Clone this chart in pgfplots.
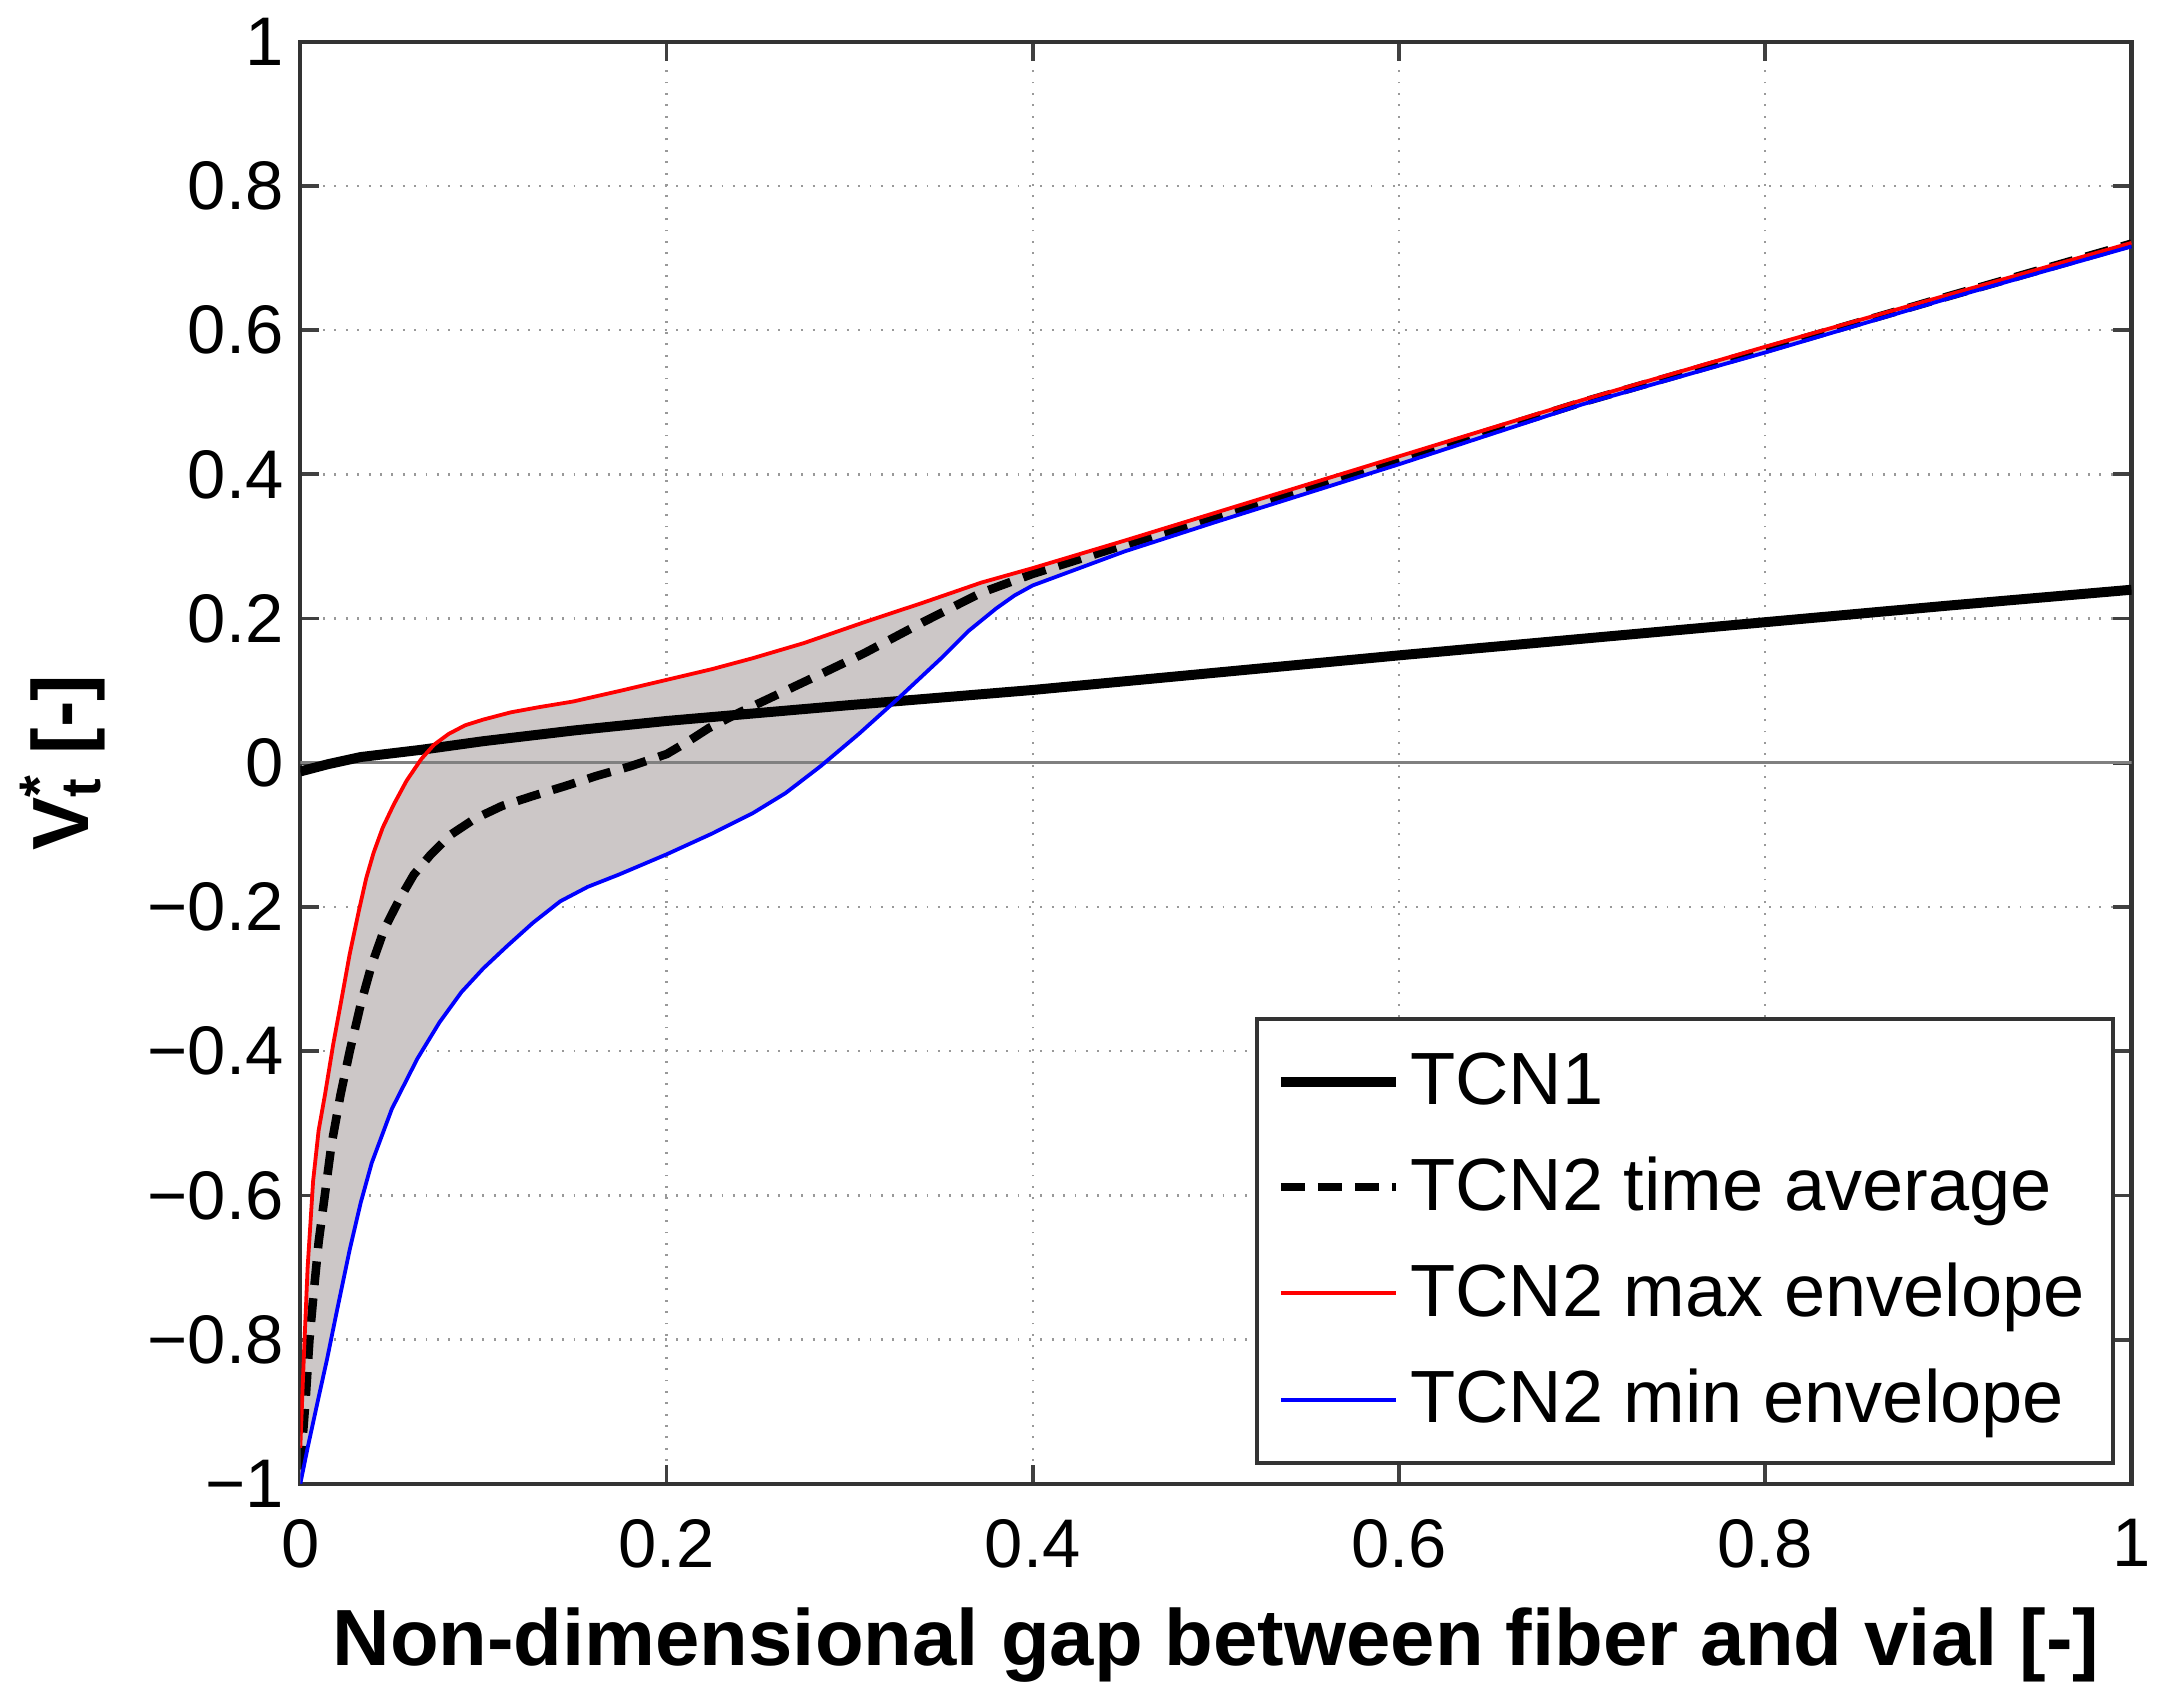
\documentclass[border=0pt]{standalone}
\usepackage{fontspec}
\setmainfont{Liberation Sans}
\usepackage{pgfplots}
\pgfplotsset{compat=1.18}
\usepgfplotslibrary{fillbetween}
\definecolor{envfill}{RGB}{204,199,199}

\begin{document}
\begin{tikzpicture}
\begin{axis}[
    scale only axis,
    width=386pt,
    height=304pt,
    xmin=0, xmax=1,
    ymin=-1, ymax=1,
    xtick={0,0.2,0.4,0.6,0.8,1},
    xticklabels={0,0.2,0.4,0.6,0.8,1},
    ytick={-1,-0.8,-0.6,-0.4,-0.2,0,0.2,0.4,0.6,0.8,1},
    yticklabels={−1,−0.8,−0.6,−0.4,−0.2,0,0.2,0.4,0.6,0.8,1},
    tick align=inside,
    major tick length=4pt,
    tick style={black!75, line width=0.8pt},
    axis line style={black!80, line width=0.9pt},
    grid=major,
    grid style={dotted, gray!80, line width=0.5pt},
    ticklabel style={font=\fontsize{14.5}{17}\selectfont},
    xticklabel style={yshift=-4pt},
    xlabel={\textbf{Non-dimensional gap between fiber and vial [-]}},
    ylabel={\textbf{V\rlap{\textsuperscript{*}}\textsubscript{t} [-]}},
    label style={font=\fontsize{16.8}{20}\selectfont},
    xlabel style={at={(axis description cs:0.5,-0.112)}, anchor=center},
    ylabel style={at={(axis description cs:-0.13,0.5)}, anchor=center},
    legend style={at={(axis description cs:0.991,0.013)}, anchor=south east,
        font=\fontsize{15.6}{18}\selectfont, draw=black!80, line width=0.8pt,
        row sep=5.6pt, inner xsep=4pt, inner ysep=5pt},
    legend cell align=left,
    legend image code/.code={\draw[#1] (0cm,0cm) -- (0.85cm,0cm);},
]

% zero line
\addplot[gray, line width=0.6pt, forget plot] coordinates {(0,0) (1,0)};

% envelope paths for the shaded band
\addplot[draw=none, name path=maxenv, forget plot] coordinates {
    (0,-0.95) (0.002,-0.82) (0.004,-0.70) (0.007,-0.58) (0.01,-0.51)
    (0.0135,-0.46) (0.018,-0.39) (0.022,-0.335) (0.027,-0.265) (0.032,-0.205)
    (0.036,-0.16) (0.040,-0.125) (0.045,-0.09) (0.051,-0.058) (0.058,-0.025)
    (0.066,0.005) (0.073,0.025) (0.081,0.04) (0.09,0.052) (0.10,0.06)
    (0.115,0.07) (0.13,0.077) (0.149,0.085) (0.175,0.10) (0.2,0.115)
    (0.225,0.13) (0.247,0.145) (0.275,0.166) (0.308,0.195) (0.34,0.222)
    (0.372,0.25) (0.4,0.27) (0.45,0.308) (0.5,0.347) (0.6,0.425)
    (0.7,0.503) (0.8,0.577) (0.9,0.649) (1.0,0.721)
};
\addplot[draw=none, name path=minenv, forget plot] coordinates {
    (0,-1.0) (0.004,-0.95) (0.01,-0.88) (0.0147,-0.826) (0.02,-0.76)
    (0.027,-0.675) (0.033,-0.61) (0.039,-0.555) (0.05,-0.48) (0.064,-0.41)
    (0.076,-0.36) (0.088,-0.318) (0.1,-0.285) (0.113,-0.254) (0.127,-0.222)
    (0.142,-0.192) (0.157,-0.172) (0.174,-0.155) (0.2,-0.127) (0.225,-0.098)
    (0.247,-0.07) (0.265,-0.042) (0.284,-0.005) (0.305,0.04) (0.326,0.088)
    (0.35,0.145) (0.365,0.183) (0.38,0.214) (0.39,0.232) (0.4,0.246)
    (0.45,0.293) (0.5,0.334) (0.6,0.414) (0.7,0.497) (0.8,0.569)
    (0.9,0.644) (1.0,0.716)
};
\addplot[envfill, forget plot] fill between[of=maxenv and minenv];

% TCN1
\addplot[black, line width=2.1pt] coordinates {
    (0,-0.012) (0.015,-0.002) (0.033,0.008) (0.066,0.018) (0.1,0.03)
    (0.15,0.045) (0.2,0.058) (0.3,0.08) (0.4,0.101) (0.5,0.125)
    (0.6,0.149) (0.7,0.172) (0.8,0.195) (0.9,0.218) (1.0,0.24)
};
\addlegendentry{TCN1}

% TCN2 time average
\addplot[black, line width=1.8pt, dash pattern=on 5pt off 2.8pt] coordinates {
    (0,-0.98) (0.003,-0.88) (0.005,-0.80) (0.0075,-0.73) (0.01,-0.665)
    (0.017,-0.53) (0.022,-0.46) (0.027,-0.40) (0.033,-0.335) (0.039,-0.28)
    (0.046,-0.23) (0.054,-0.19) (0.062,-0.155) (0.071,-0.128) (0.082,-0.10)
    (0.095,-0.078) (0.11,-0.06) (0.127,-0.046) (0.145,-0.032) (0.162,-0.018)
    (0.18,-0.005) (0.2,0.012) (0.212,0.03) (0.223,0.048) (0.24,0.07)
    (0.26,0.094) (0.285,0.124) (0.308,0.152) (0.34,0.195) (0.372,0.236)
    (0.4,0.262) (0.45,0.302) (0.5,0.341) (0.6,0.42) (0.7,0.50)
    (0.8,0.573) (0.9,0.647) (1.0,0.72)
};
\addlegendentry{TCN2 time average}

% TCN2 max envelope
\addplot[red, line width=0.8pt] coordinates {
    (0,-0.95) (0.002,-0.82) (0.004,-0.70) (0.007,-0.58) (0.01,-0.51)
    (0.0135,-0.46) (0.018,-0.39) (0.022,-0.335) (0.027,-0.265) (0.032,-0.205)
    (0.036,-0.16) (0.040,-0.125) (0.045,-0.09) (0.051,-0.058) (0.058,-0.025)
    (0.066,0.005) (0.073,0.025) (0.081,0.04) (0.09,0.052) (0.10,0.06)
    (0.115,0.07) (0.13,0.077) (0.149,0.085) (0.175,0.10) (0.2,0.115)
    (0.225,0.13) (0.247,0.145) (0.275,0.166) (0.308,0.195) (0.34,0.222)
    (0.372,0.25) (0.4,0.27) (0.45,0.308) (0.5,0.347) (0.6,0.425)
    (0.7,0.503) (0.8,0.577) (0.9,0.649) (1.0,0.721)
};
\addlegendentry{TCN2 max envelope}

% TCN2 min envelope
\addplot[blue, line width=0.8pt] coordinates {
    (0,-1.0) (0.004,-0.95) (0.01,-0.88) (0.0147,-0.826) (0.02,-0.76)
    (0.027,-0.675) (0.033,-0.61) (0.039,-0.555) (0.05,-0.48) (0.064,-0.41)
    (0.076,-0.36) (0.088,-0.318) (0.1,-0.285) (0.113,-0.254) (0.127,-0.222)
    (0.142,-0.192) (0.157,-0.172) (0.174,-0.155) (0.2,-0.127) (0.225,-0.098)
    (0.247,-0.07) (0.265,-0.042) (0.284,-0.005) (0.305,0.04) (0.326,0.088)
    (0.35,0.145) (0.365,0.183) (0.38,0.214) (0.39,0.232) (0.4,0.246)
    (0.45,0.293) (0.5,0.334) (0.6,0.414) (0.7,0.497) (0.8,0.569)
    (0.9,0.644) (1.0,0.716)
};
\addlegendentry{TCN2 min envelope}

\end{axis}
\pgfresetboundingbox
\path[use as bounding box] (current axis.south west) ++(-63.3pt,-46.7pt)
    rectangle ([shift={(5.8pt,8.8pt)}]current axis.north east);
\end{tikzpicture}
\end{document}
